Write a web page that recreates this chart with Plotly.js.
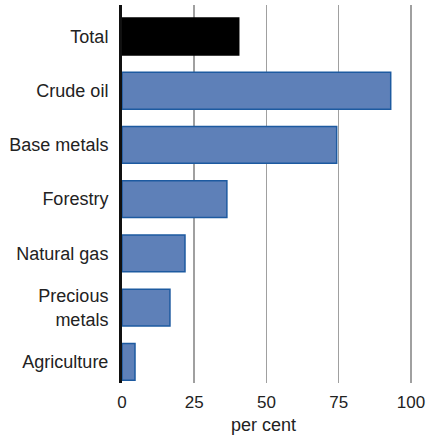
<!DOCTYPE html>
<html><head><meta charset="utf-8">
<script src="https://cdn.plot.ly/plotly-3.0.1.min.js"></script>
<style>html,body{margin:0;padding:0;background:#fff}#c{width:432px;height:435px}</style>
</head><body><div id="c"></div>
<script>
var categories = ["Total", "Crude oil", "Base metals", "Forestry", "Natural gas", "Precious<br>metals", "Agriculture"];
var values = [40.4, 93, 74.3, 36.3, 21.8, 16.6, 4.5];
var barColors = ["#000000", "#5e80b8", "#5e80b8", "#5e80b8", "#5e80b8", "#5e80b8", "#5e80b8"];
var lineColors = ["#000000", "#1d5aa0", "#1d5aa0", "#1d5aa0", "#1d5aa0", "#1d5aa0", "#1d5aa0"];
var xTicks = [0, 25, 50, 75, 100];
var xTitle = "per cent";

var trace = {
  type: "bar", orientation: "h",
  y: categories, x: values,
  width: 0.68,
  marker: {color: barColors, line: {color: lineColors, width: 1.5}},
  hoverinfo: "none"
};
var layout = {
  width: 432, height: 435,
  margin: {l: 122, r: 2, t: 5, b: 52},
  paper_bgcolor: "#fff", plot_bgcolor: "#fff",
  font: {family: "Liberation Sans, Arial, sans-serif", size: 18, color: "#222"},
  showlegend: false,
  xaxis: {
    range: [0, 106.6], tickvals: xTicks, ticktext: xTicks.map(String),
    showgrid: true, gridcolor: "#a0a0a0", gridwidth: 1.5,
    zeroline: false, showline: false,
    ticks: "outside", ticklen: 4, tickcolor: "rgba(0,0,0,0)",
    tickfont: {size: 17}
  },
  yaxis: {
    type: "category",
    range: [6.39, -0.58],
    showgrid: false, zeroline: false,
    showline: true, linecolor: "#111", linewidth: 3,
    ticks: "outside", ticklen: 7, tickcolor: "rgba(0,0,0,0)",
    tickfont: {size: 18}
  },
  annotations: [{
    text: xTitle, xref: "paper", yref: "paper", x: 0.461, y: -0.112,
    xanchor: "center", yanchor: "middle", showarrow: false,
    font: {size: 18, color: "#222"}
  }]
};
Plotly.newPlot("c", [trace], layout, {displayModeBar: false, staticPlot: true});
</script></body></html>
